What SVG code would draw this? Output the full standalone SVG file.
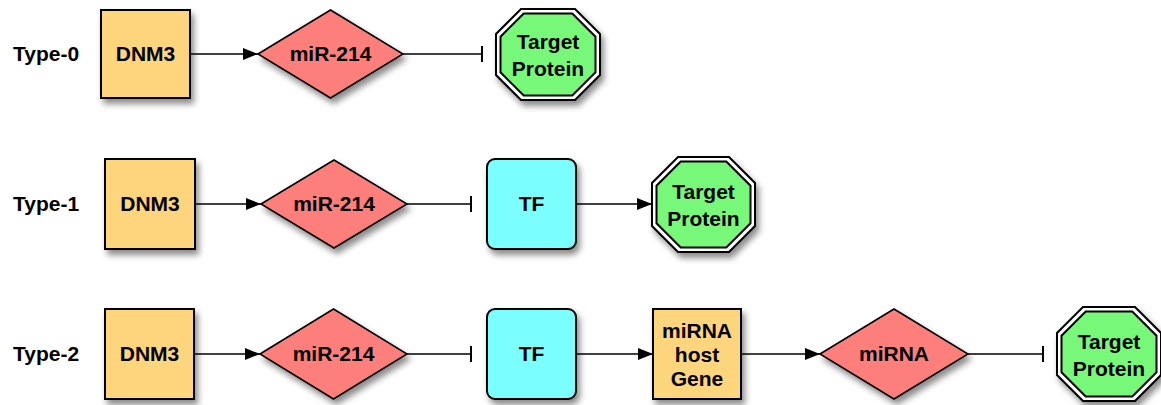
<svg xmlns="http://www.w3.org/2000/svg" width="1161" height="405" viewBox="0 0 1161 405">
<style>
text{font-family:"Liberation Sans",Arial,sans-serif;font-weight:bold;font-size:21px;fill:#000;text-anchor:middle}
.lbl{text-anchor:start}
.gene{fill:#FDD57C;stroke:#000;stroke-width:2}
.mir{fill:#FD7F7C;stroke:#000;stroke-width:1.5}
.tf{fill:#7AFEFE;stroke:#000;stroke-width:2}
.octo{fill:#fff;stroke:#000;stroke-width:2}
.octi{fill:#78F878;stroke:#000;stroke-width:2}
.conn line{stroke:#000;stroke-width:1.3;fill:none}
.act{marker-end:url(#arrow)}
.inh{marker-end:url(#bar)}
</style>
<defs>
<filter id="sh" x="-20%" y="-20%" width="150%" height="150%">
<feDropShadow dx="3" dy="5" stdDeviation="3" flood-color="#000" flood-opacity="0.45"/>
</filter>
<marker id="arrow" markerUnits="userSpaceOnUse" markerWidth="16" markerHeight="12" refX="15" refY="6" orient="auto">
<path d="M0,0 L15,6 L0,12 Z" fill="#000"/>
</marker>
<marker id="bar" markerUnits="userSpaceOnUse" markerWidth="4" markerHeight="16" refX="2" refY="8" orient="auto">
<path d="M2,0 L2,16" stroke="#000" stroke-width="2"/>
</marker>
</defs>

<g id="labels">
<text class="lbl" x="13" y="61">Type-0</text>
<text class="lbl" x="13" y="211">Type-1</text>
<text class="lbl" x="13" y="361">Type-2</text>
</g>

<g id="connectors" class="conn">
<line class="act" x1="190" y1="54" x2="258" y2="54"/>
<line class="inh" x1="403" y1="54" x2="482" y2="54"/>
<line class="act" x1="195" y1="204" x2="261" y2="204"/>
<line class="inh" x1="407" y1="204" x2="471" y2="204"/>
<line class="act" x1="576" y1="204" x2="652" y2="204"/>
<line class="act" x1="194" y1="354" x2="260" y2="354"/>
<line class="inh" x1="407" y1="354" x2="471" y2="354"/>
<line class="act" x1="576" y1="354" x2="653" y2="354"/>
<line class="act" x1="741" y1="354" x2="820" y2="354"/>
<line class="inh" x1="968" y1="354" x2="1043" y2="354"/>
</g>

<g id="t0-dnm3">
<rect class="gene" filter="url(#sh)" x="101" y="10" width="89" height="88"/>
<text x="145.5" y="61">DNM3</text>
</g>
<g id="t0-mir214">
<polygon class="mir" filter="url(#sh)" points="258,54 330.5,10 403,54 330.5,98"/>
<text x="330.5" y="61">miR-214</text>
</g>
<g id="t0-target">
<polygon class="octo" filter="url(#sh)" points="521,9 575,9 600,34 600,75 575,100 521,100 496,75 496,34"/>
<polygon class="octi" points="523.7,13.5 572.3,13.5 595.5,36.7 595.5,72.3 572.3,95.5 523.7,95.5 500.5,72.3 500.5,36.7"/>
<text x="548" y="49">Target</text>
<text x="548" y="76">Protein</text>
</g>

<g id="t1-dnm3">
<rect class="gene" filter="url(#sh)" x="105" y="159" width="90" height="90"/>
<text x="150" y="211">DNM3</text>
</g>
<g id="t1-mir214">
<polygon class="mir" filter="url(#sh)" points="261,204 334,160 407,204 334,248"/>
<text x="334" y="211">miR-214</text>
</g>
<g id="t1-tf">
<rect class="tf" filter="url(#sh)" x="487" y="159" width="89" height="90" rx="8"/>
<text x="531.5" y="211">TF</text>
</g>
<g id="t1-target">
<polygon class="octo" filter="url(#sh)" points="678,157 729,157 755,183 755,226 729,252 678,252 652,226 652,183"/>
<polygon class="octi" points="680.7,161.5 726.3,161.5 750.5,185.7 750.5,223.3 726.3,247.5 680.7,247.5 656.5,223.3 656.5,185.7"/>
<text x="703.5" y="199">Target</text>
<text x="703.5" y="226">Protein</text>
</g>

<g id="t2-dnm3">
<rect class="gene" filter="url(#sh)" x="105" y="309" width="89" height="90"/>
<text x="149.5" y="361">DNM3</text>
</g>
<g id="t2-mir214">
<polygon class="mir" filter="url(#sh)" points="260,354 333.5,309 407,354 333.5,399"/>
<text x="333.5" y="361">miR-214</text>
</g>
<g id="t2-tf">
<rect class="tf" filter="url(#sh)" x="487" y="309" width="89" height="90" rx="8"/>
<text x="531.5" y="361">TF</text>
</g>
<g id="t2-host">
<rect class="gene" filter="url(#sh)" x="653" y="309" width="88" height="90"/>
<text x="697" y="338">miRNA</text>
<text x="697" y="362">host</text>
<text x="697" y="386">Gene</text>
</g>
<g id="t2-mirna">
<polygon class="mir" filter="url(#sh)" points="820,354 894,309 968,354 894,399"/>
<text x="894" y="361">miRNA</text>
</g>
<g id="t2-target">
<polygon class="octo" filter="url(#sh)" points="1083,307 1135,307 1161,333 1161,375 1135,401 1083,401 1057,375 1057,333"/>
<polygon class="octi" points="1085.7,311.5 1132.3,311.5 1156.5,335.7 1156.5,372.3 1132.3,396.5 1085.7,396.5 1061.5,372.3 1061.5,335.7"/>
<text x="1109" y="349">Target</text>
<text x="1109" y="376">Protein</text>
</g>
</svg>
